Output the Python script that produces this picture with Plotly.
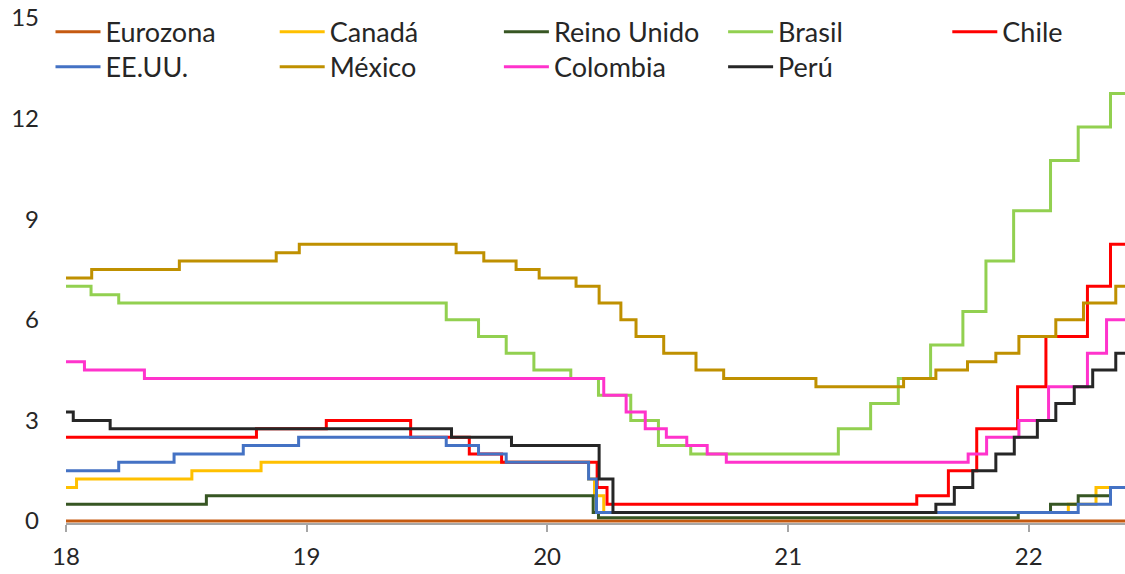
import plotly.graph_objects as go

END = "2022-05-27"

# Policy rate change dates and levels (%)
eurozona_dates = ["2018-01-01"]
eurozona_vals = [0.0]

canada_dates = ["2018-01-01", "2018-01-17", "2018-07-11", "2018-10-24", "2020-03-04",
                "2020-03-13", "2020-03-27", "2022-03-02", "2022-04-13"]
canada_vals = [1.00, 1.25, 1.50, 1.75, 1.25, 0.75, 0.25, 0.50, 1.00]

uk_dates = ["2018-01-01", "2018-08-02", "2020-03-11", "2020-03-19", "2021-12-16",
            "2022-02-03", "2022-03-17", "2022-05-05"]
uk_vals = [0.50, 0.75, 0.25, 0.10, 0.25, 0.50, 0.75, 1.00]

brasil_dates = ["2018-01-01", "2018-02-08", "2018-03-22", "2019-08-01", "2019-09-19",
                "2019-10-31", "2019-12-12", "2020-02-06", "2020-03-19", "2020-05-07",
                "2020-06-18", "2020-08-06", "2021-03-18", "2021-05-06", "2021-06-17",
                "2021-08-05", "2021-09-23", "2021-10-28", "2021-12-09", "2022-02-03",
                "2022-03-17", "2022-05-05"]
brasil_vals = [7.00, 6.75, 6.50, 6.00, 5.50, 5.00, 4.50, 4.25, 3.75, 3.00, 2.25, 2.00,
               2.75, 3.50, 4.25, 5.25, 6.25, 7.75, 9.25, 10.75, 11.75, 12.75]

chile_dates = ["2018-01-01", "2018-10-17", "2019-01-31", "2019-06-08", "2019-09-05",
               "2019-10-24", "2020-03-17", "2020-04-01", "2021-07-15", "2021-09-01",
               "2021-10-14", "2021-12-15", "2022-01-27", "2022-03-31", "2022-05-05"]
chile_vals = [2.50, 2.75, 3.00, 2.50, 2.00, 1.75, 1.00, 0.50, 0.75, 1.50, 2.75, 4.00,
              5.50, 7.00, 8.25]

usa_dates = ["2018-01-01", "2018-03-22", "2018-06-14", "2018-09-27", "2018-12-20",
             "2019-08-01", "2019-09-19", "2019-10-31", "2020-03-04", "2020-03-16",
             "2022-03-17", "2022-05-05"]
usa_vals = [1.50, 1.75, 2.00, 2.25, 2.50, 2.25, 2.00, 1.75, 1.25, 0.25, 0.50, 1.00]

mexico_dates = ["2018-01-01", "2018-02-09", "2018-06-22", "2018-11-16", "2018-12-21",
                "2019-08-16", "2019-09-27", "2019-11-15", "2019-12-20", "2020-02-14",
                "2020-03-20", "2020-04-22", "2020-05-15", "2020-06-26", "2020-08-14",
                "2020-09-25", "2021-02-12", "2021-06-25", "2021-08-13", "2021-09-30",
                "2021-11-12", "2021-12-17", "2022-02-11", "2022-03-25", "2022-05-13"]
mexico_vals = [7.25, 7.50, 7.75, 8.00, 8.25, 8.00, 7.75, 7.50, 7.25, 7.00, 6.50, 6.00,
               5.50, 5.00, 4.50, 4.25, 4.00, 4.25, 4.50, 4.75, 5.00, 5.50, 6.00, 6.50, 7.00]

colombia_dates = ["2018-01-01", "2018-01-29", "2018-04-30", "2020-03-27", "2020-04-30",
                  "2020-05-29", "2020-06-30", "2020-07-31", "2020-08-31", "2020-09-29",
                  "2021-10-01", "2021-10-29", "2021-12-17", "2022-01-31", "2022-03-31",
                  "2022-04-29"]
colombia_vals = [4.75, 4.50, 4.25, 3.75, 3.25, 2.75, 2.50, 2.25, 2.00, 1.75, 2.00, 2.50,
                 3.00, 4.00, 5.00, 6.00]

peru_dates = ["2018-01-01", "2018-01-12", "2018-03-09", "2019-08-09", "2019-11-08",
              "2020-03-20", "2020-04-10", "2021-08-13", "2021-09-10", "2021-10-08",
              "2021-11-12", "2021-12-10", "2022-01-14", "2022-02-11", "2022-03-11",
              "2022-04-08", "2022-05-13"]
peru_vals = [3.25, 3.00, 2.75, 2.50, 2.25, 1.25, 0.25, 0.50, 1.00, 1.50, 2.00, 2.50,
             3.00, 3.50, 4.00, 4.50, 5.00]

year_ticks = ["2018-01-01", "2019-01-01", "2020-01-01", "2021-01-01", "2022-01-01"]
year_labels = ["18", "19", "20", "21", "22"]
y_ticks = [0, 3, 6, 9, 12, 15]

series = [
    ("Eurozona", eurozona_dates, eurozona_vals, "#C55A11"),
    ("Canadá", canada_dates, canada_vals, "#FFC000"),
    ("Reino Unido", uk_dates, uk_vals, "#375623"),
    ("Brasil", brasil_dates, brasil_vals, "#92D050"),
    ("Chile", chile_dates, chile_vals, "#FF0000"),
    ("EE.UU.", usa_dates, usa_vals, "#4472C4"),
    ("México", mexico_dates, mexico_vals, "#BF9000"),
    ("Colombia", colombia_dates, colombia_vals, "#FF33CC"),
    ("Perú", peru_dates, peru_vals, "#262626"),
]

W, H = 1125, 574
FONT = "Lato"
TXT = "#262626"

fig = go.Figure()
legends = {}
for i, (name, d, v, c) in enumerate(series):
    lg = "legend" if i == 0 else f"legend{i+1}"
    fig.add_trace(go.Scatter(
        x=d + [END], y=v + [v[-1]], name=name, mode="lines",
        line=dict(color=c, width=3, shape="hv"), legend=lg,
        hoverinfo="x+y+name",
    ))
    row, col = divmod(i, 5)
    lx = 55.5 + col * 224.2 - 5
    ly = 32.3 + row * 35.0
    legends[lg] = dict(
        x=lx / W, y=1 - ly / H, xref="container", yref="container",
        xanchor="left", yanchor="middle", bgcolor="rgba(0,0,0,0)",
        borderwidth=0, itemwidth=45,
        font=dict(family=FONT, size=27, color=TXT),
    )

fig.update_layout(
    width=W, height=H,
    margin=dict(l=66, r=0, t=18, b=51, autoexpand=False),
    paper_bgcolor="white", plot_bgcolor="white",
    showlegend=True,
    **legends,
    xaxis=dict(
        type="date", range=["2018-01-01", END],
        tickvals=year_ticks, ticktext=year_labels,
        showgrid=False, zeroline=False, layer="below traces",
        showline=True, linecolor="#A6A6A6", linewidth=2,
        ticks="outside", ticklen=7, tickwidth=2, tickcolor="#A6A6A6",
        ticklabelstandoff=4,
        tickfont=dict(family=FONT, size=24, color=TXT),
    ),
    yaxis=dict(
        range=[-0.06, 15], tickvals=y_ticks, showgrid=False, zeroline=False,
        showline=False, ticks="", ticklabelstandoff=26,
        tickfont=dict(family=FONT, size=24, color=TXT),
    ),
)

fig.write_html("out.html", config={"displayModeBar": False},
               post_script="document.body.style.margin='0';document.body.style.padding='0';")
